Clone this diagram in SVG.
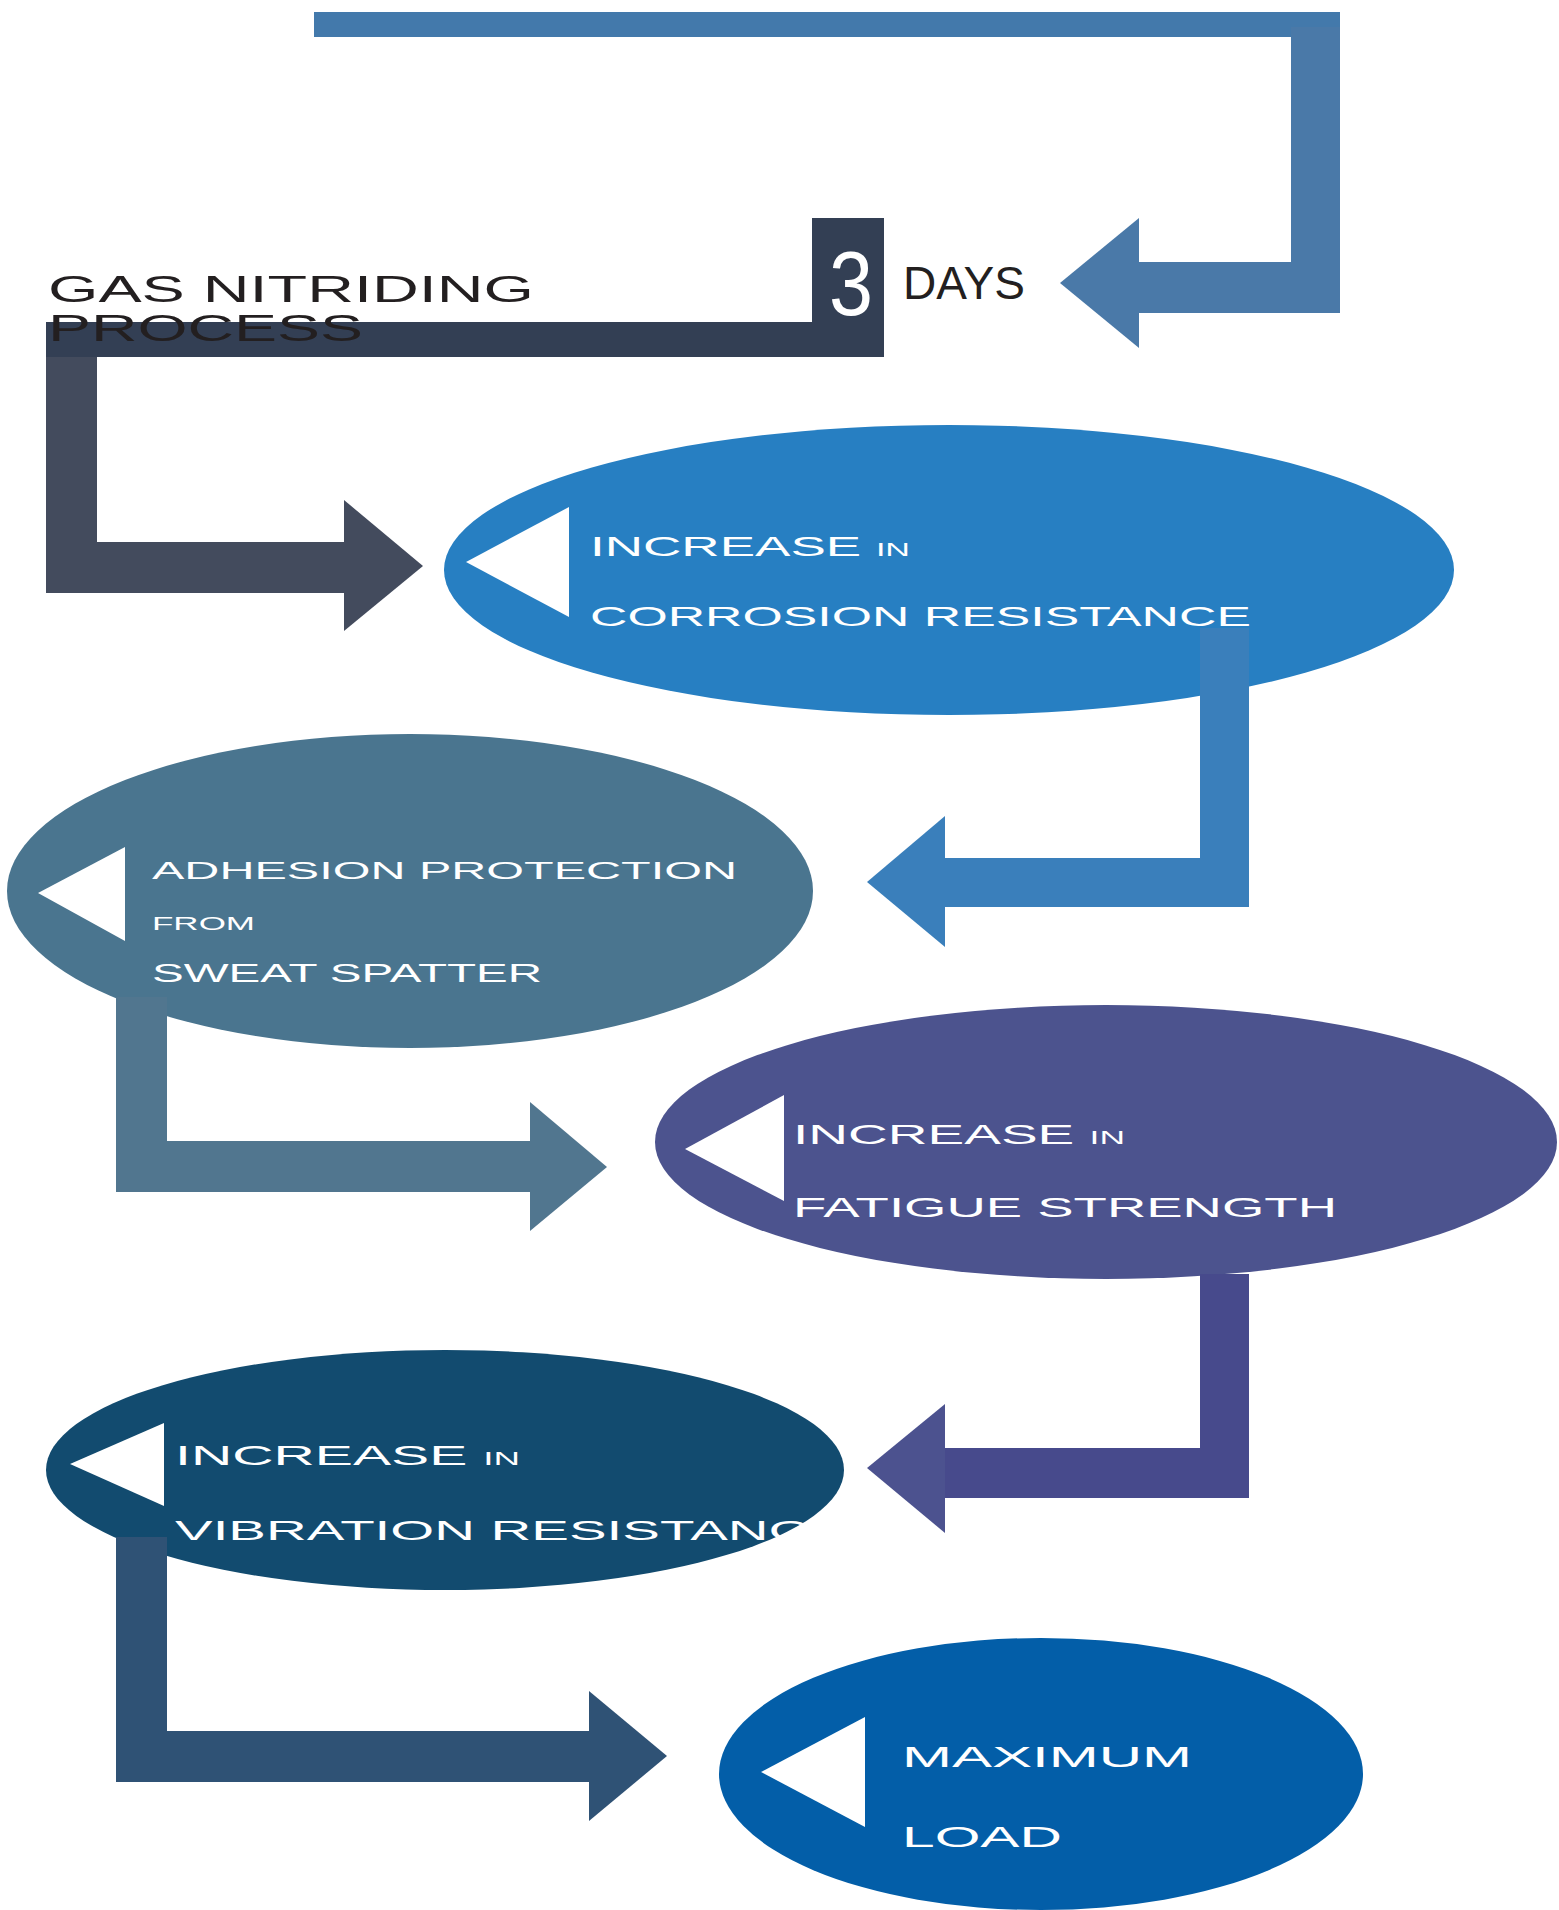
<svg xmlns="http://www.w3.org/2000/svg" width="1559" height="1910" viewBox="0 0 1559 1910">
<style>
.lbl{font-family:"Liberation Sans",Arial,sans-serif;fill:#ffffff;}
.dark{font-family:"Liberation Sans",Arial,sans-serif;fill:#231f20;}
.tri{fill:#ffffff;}
</style>
<defs>
<clipPath id="clip4"><ellipse cx="446" cy="1470" rx="399" ry="120"/></clipPath>
</defs>
<rect width="1559" height="1910" fill="#ffffff"/>

<g id="connectors-top">
  <g id="conn-top">
    <rect x="314" y="12" width="1026" height="25" fill="#4379ab"/>
    <rect x="1291" y="27" width="49" height="286" fill="#4a79a8"/>
    <rect x="1139" y="262" width="201" height="51" fill="#4a79a8"/>
    <polygon points="1139,218 1060,283 1139,348" fill="#4a79a8"/>
  </g>
  <g id="conn-start">
    <rect x="46" y="322" width="838" height="35" fill="#333f54"/>
    <rect x="812" y="218" width="72" height="139" fill="#333f54"/>
    <rect x="46" y="357" width="51" height="236" fill="#434b5d"/>
    <rect x="46" y="542" width="299" height="51" fill="#434b5d"/>
    <polygon points="344,500 423,566 344,631" fill="#434b5d"/>
  </g>
</g>

<g id="title">
  <text class="dark" x="48" y="302" font-size="36" textLength="486" lengthAdjust="spacingAndGlyphs">GAS NITRIDING</text>
  <text class="dark" x="48" y="341" font-size="36" textLength="315" lengthAdjust="spacingAndGlyphs">PROCESS</text>
  <text class="lbl" x="851" y="315" font-size="90" text-anchor="middle" textLength="44" lengthAdjust="spacingAndGlyphs">3</text>
  <text class="dark" x="903" y="299" font-size="47" textLength="122" lengthAdjust="spacingAndGlyphs">DAYS</text>
</g>

<g id="node1">
  <ellipse cx="949" cy="570" rx="505" ry="145" fill="#277fc2"/>
  <polygon class="tri" points="466,562 569,507 569,617"/>
  <text class="lbl" x="590" y="556" font-size="28" textLength="320" lengthAdjust="spacingAndGlyphs">INCREASE <tspan font-size="18">IN</tspan></text>
  <text class="lbl" x="590" y="626" font-size="28" textLength="661" lengthAdjust="spacingAndGlyphs">CORROSION RESISTANCE</text>
</g>

<g id="conn2">
  <rect x="1200" y="628" width="49" height="279" fill="#3a7fbb"/>
  <rect x="945" y="858" width="304" height="49" fill="#3a7fbb"/>
  <polygon points="945,816 867,882 945,947" fill="#3a7fbb"/>
</g>

<g id="node2">
  <ellipse cx="410" cy="891" rx="403" ry="157" fill="#4a758f"/>
  <polygon class="tri" points="38,893 125,847 125,941"/>
  <text class="lbl" x="152" y="879" font-size="24" textLength="585" lengthAdjust="spacingAndGlyphs">ADHESION PROTECTION</text>
  <text class="lbl" x="152" y="930" font-size="18" textLength="103" lengthAdjust="spacingAndGlyphs">FROM</text>
  <text class="lbl" x="152" y="982" font-size="25" textLength="390" lengthAdjust="spacingAndGlyphs">SWEAT SPATTER</text>
</g>

<g id="conn3">
  <rect x="116" y="997" width="51" height="195" fill="#51768f"/>
  <rect x="116" y="1141" width="414" height="51" fill="#51768f"/>
  <polygon points="530,1102 607,1167 530,1231" fill="#51768f"/>
</g>

<g id="node3">
  <ellipse cx="1106" cy="1142" rx="451" ry="137" fill="#4c538e"/>
  <polygon class="tri" points="685,1149 784,1095 784,1201"/>
  <text class="lbl" x="793" y="1144" font-size="28" textLength="332" lengthAdjust="spacingAndGlyphs">INCREASE <tspan font-size="18">IN</tspan></text>
  <text class="lbl" x="793" y="1217" font-size="28" textLength="544" lengthAdjust="spacingAndGlyphs">FATIGUE STRENGTH</text>
</g>

<g id="conn4">
  <rect x="1200" y="1274" width="49" height="224" fill="#474a8c"/>
  <rect x="945" y="1448" width="304" height="50" fill="#474a8c"/>
  <polygon points="945,1404 867,1468 945,1533" fill="#4c528f"/>
</g>

<g id="node4">
  <ellipse cx="445" cy="1470" rx="399" ry="120" fill="#124b6f"/>
  <polygon class="tri" points="70,1464 164,1423 164,1506"/>
  <text class="lbl" x="175" y="1465" font-size="28" textLength="345" lengthAdjust="spacingAndGlyphs">INCREASE <tspan font-size="18">IN</tspan></text>
  <text class="lbl" x="175" y="1540" font-size="28" textLength="672" lengthAdjust="spacingAndGlyphs" clip-path="url(#clip4)">VIBRATION RESISTANCE</text>
</g>

<g id="conn5">
  <rect x="116" y="1537" width="51" height="245" fill="#2f5275"/>
  <rect x="116" y="1731" width="473" height="51" fill="#2f5275"/>
  <polygon points="589,1691 667,1756 589,1821" fill="#2f5275"/>
</g>

<g id="node5">
  <ellipse cx="1041" cy="1774" rx="322" ry="136" fill="#035ea8"/>
  <polygon class="tri" points="761,1772 865,1717 865,1827"/>
  <text class="lbl" x="902" y="1767" font-size="29" textLength="290" lengthAdjust="spacingAndGlyphs">MAXIMUM</text>
  <text class="lbl" x="902" y="1847" font-size="29" textLength="160" lengthAdjust="spacingAndGlyphs">LOAD</text>
</g>
</svg>
